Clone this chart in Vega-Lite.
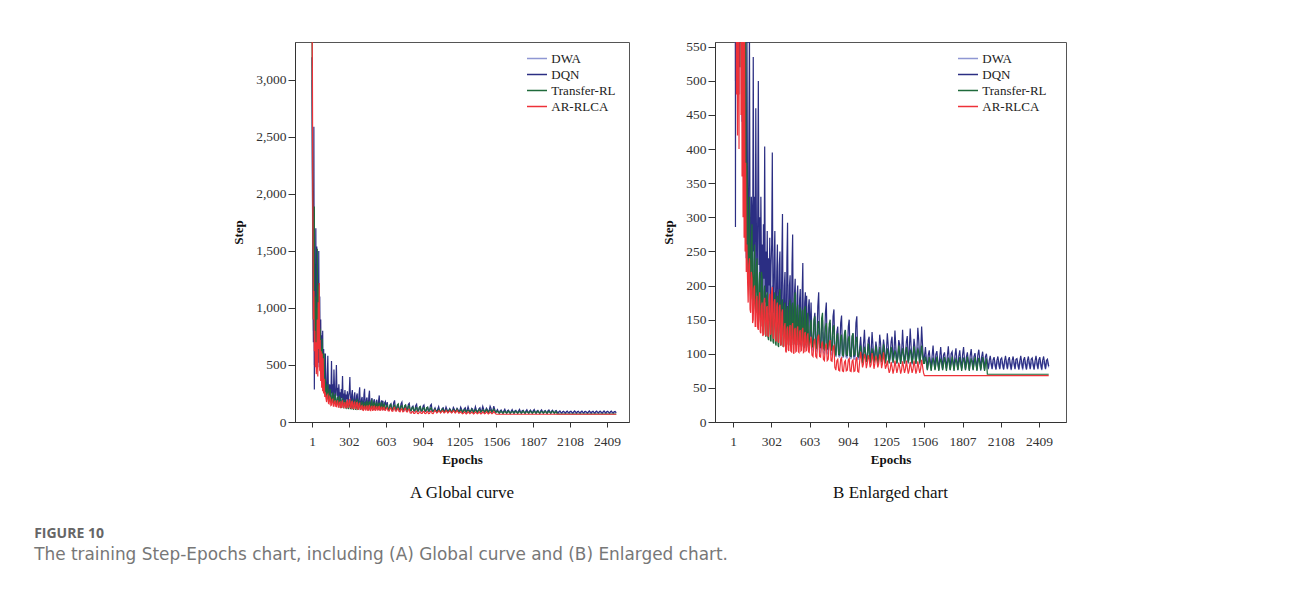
{
"$schema": "https://vega.github.io/schema/vega-lite/v6.json",
"background": "white",
"padding": {"left": 295, "top": 42, "right": 998, "bottom": 549},
"autosize": {"type": "none"},
"datasets": {"d": [
{"e":1,"DWA":3000,"DQN":3200,"Transfer-RL":3400,"AR-RLCA":3600},
{"e":4,"DWA":2000,"DQN":2200,"Transfer-RL":2600,"AR-RLCA":3100},
{"e":8,"DWA":1200,"DQN":1400,"Transfer-RL":1500,"AR-RLCA":1800},
{"e":12,"DWA":800,"DQN":700,"Transfer-RL":900,"AR-RLCA":900},
{"e":16,"DWA":1600,"DQN":2590,"Transfer-RL":1300,"AR-RLCA":1150},
{"e":20,"DWA":500,"DQN":286,"Transfer-RL":1890,"AR-RLCA":620},
{"e":24,"DWA":1100,"DQN":1300,"Transfer-RL":700,"AR-RLCA":800},
{"e":28,"DWA":700,"DQN":900,"Transfer-RL":1100,"AR-RLCA":480},
{"e":32,"DWA":1300,"DQN":1700,"Transfer-RL":560,"AR-RLCA":700},
{"e":36,"DWA":600,"DQN":700,"Transfer-RL":1000,"AR-RLCA":420},
{"e":40,"DWA":1200,"DQN":1540,"Transfer-RL":620,"AR-RLCA":560},
{"e":44,"DWA":550,"DQN":600,"Transfer-RL":1520,"AR-RLCA":900},
{"e":48,"DWA":1000,"DQN":1200,"Transfer-RL":560,"AR-RLCA":400},
{"e":52,"DWA":480,"DQN":520,"Transfer-RL":1200,"AR-RLCA":1050},
{"e":56,"DWA":1100,"DQN":1500,"Transfer-RL":700,"AR-RLCA":640},
{"e":60,"DWA":560,"DQN":650,"Transfer-RL":900,"AR-RLCA":1220},
{"e":64,"DWA":900,"DQN":1100,"Transfer-RL":520,"AR-RLCA":450},
{"e":68,"DWA":440,"DQN":480,"Transfer-RL":820,"AR-RLCA":720},
{"e":72,"DWA":780,"DQN":900,"Transfer-RL":450,"AR-RLCA":360},
{"e":76,"DWA":400,"DQN":420,"Transfer-RL":650,"AR-RLCA":620},
{"e":80,"DWA":650,"DQN":760,"Transfer-RL":420,"AR-RLCA":300},
{"e":84,"DWA":360,"DQN":380,"Transfer-RL":730,"AR-RLCA":600},
{"e":88,"DWA":620,"DQN":800,"Transfer-RL":380,"AR-RLCA":270},
{"e":92,"DWA":340,"DQN":360,"Transfer-RL":600,"AR-RLCA":560},
{"e":96,"DWA":520,"DQN":640,"Transfer-RL":320,"AR-RLCA":250},
{"e":100,"DWA":310,"DQN":330,"Transfer-RL":600,"AR-RLCA":380},
{"e":105,"DWA":260,"DQN":240,"Transfer-RL":250,"AR-RLCA":220},
{"e":110,"DWA":300,"DQN":600,"Transfer-RL":380,"AR-RLCA":260},
{"e":115,"DWA":240,"DQN":300,"Transfer-RL":300,"AR-RLCA":210},
{"e":120,"DWA":200,"DQN":210,"Transfer-RL":210,"AR-RLCA":175},
{"e":125,"DWA":260,"DQN":380,"Transfer-RL":240,"AR-RLCA":230},
{"e":130,"DWA":330,"DQN":580,"Transfer-RL":330,"AR-RLCA":240},
{"e":135,"DWA":220,"DQN":260,"Transfer-RL":200,"AR-RLCA":165},
{"e":140,"DWA":190,"DQN":200,"Transfer-RL":180,"AR-RLCA":160},
{"e":145,"DWA":240,"DQN":330,"Transfer-RL":260,"AR-RLCA":220},
{"e":150,"DWA":280,"DQN":300,"Transfer-RL":290,"AR-RLCA":210},
{"e":155,"DWA":200,"DQN":220,"Transfer-RL":190,"AR-RLCA":145},
{"e":160,"DWA":170,"DQN":535,"Transfer-RL":170,"AR-RLCA":150},
{"e":165,"DWA":230,"DQN":250,"Transfer-RL":230,"AR-RLCA":195},
{"e":170,"DWA":300,"DQN":330,"Transfer-RL":260,"AR-RLCA":200},
{"e":175,"DWA":190,"DQN":200,"Transfer-RL":175,"AR-RLCA":140},
{"e":180,"DWA":160,"DQN":460,"Transfer-RL":160,"AR-RLCA":140},
{"e":185,"DWA":220,"DQN":280,"Transfer-RL":230,"AR-RLCA":180},
{"e":190,"DWA":260,"DQN":190,"Transfer-RL":240,"AR-RLCA":185},
{"e":195,"DWA":170,"DQN":300,"Transfer-RL":160,"AR-RLCA":138},
{"e":200,"DWA":180,"DQN":500,"Transfer-RL":150,"AR-RLCA":135},
{"e":205,"DWA":210,"DQN":230,"Transfer-RL":200,"AR-RLCA":175},
{"e":210,"DWA":250,"DQN":300,"Transfer-RL":220,"AR-RLCA":190},
{"e":215,"DWA":170,"DQN":180,"Transfer-RL":150,"AR-RLCA":132},
{"e":220,"DWA":150,"DQN":330,"Transfer-RL":140,"AR-RLCA":130},
{"e":225,"DWA":200,"DQN":220,"Transfer-RL":220,"AR-RLCA":170},
{"e":230,"DWA":230,"DQN":260,"Transfer-RL":210,"AR-RLCA":175},
{"e":235,"DWA":165,"DQN":170,"Transfer-RL":135,"AR-RLCA":126},
{"e":240,"DWA":160,"DQN":290,"Transfer-RL":130,"AR-RLCA":128},
{"e":245,"DWA":200,"DQN":210,"Transfer-RL":190,"AR-RLCA":176},
{"e":250,"DWA":240,"DQN":404,"Transfer-RL":200,"AR-RLCA":182},
{"e":255,"DWA":160,"DQN":175,"Transfer-RL":128,"AR-RLCA":130},
{"e":260,"DWA":150,"DQN":250,"Transfer-RL":125,"AR-RLCA":126},
{"e":265,"DWA":200,"DQN":190,"Transfer-RL":185,"AR-RLCA":168},
{"e":270,"DWA":220,"DQN":280,"Transfer-RL":190,"AR-RLCA":170},
{"e":275,"DWA":150,"DQN":160,"Transfer-RL":125,"AR-RLCA":127},
{"e":280,"DWA":145,"DQN":240,"Transfer-RL":120,"AR-RLCA":125},
{"e":285,"DWA":190,"DQN":200,"Transfer-RL":175,"AR-RLCA":180},
{"e":290,"DWA":210,"DQN":270,"Transfer-RL":180,"AR-RLCA":188},
{"e":295,"DWA":150,"DQN":160,"Transfer-RL":120,"AR-RLCA":128},
{"e":300,"DWA":140,"DQN":230,"Transfer-RL":118,"AR-RLCA":130},
{"e":305,"DWA":185,"DQN":260,"Transfer-RL":170,"AR-RLCA":190},
{"e":310,"DWA":200,"DQN":395,"Transfer-RL":175,"AR-RLCA":198},
{"e":315,"DWA":140,"DQN":170,"Transfer-RL":118,"AR-RLCA":125},
{"e":320,"DWA":135,"DQN":160,"Transfer-RL":115,"AR-RLCA":122},
{"e":325,"DWA":180,"DQN":240,"Transfer-RL":180,"AR-RLCA":176},
{"e":330,"DWA":190,"DQN":280,"Transfer-RL":190,"AR-RLCA":180},
{"e":335,"DWA":135,"DQN":155,"Transfer-RL":115,"AR-RLCA":120},
{"e":340,"DWA":130,"DQN":145,"Transfer-RL":112,"AR-RLCA":118},
{"e":345,"DWA":170,"DQN":220,"Transfer-RL":175,"AR-RLCA":170},
{"e":350,"DWA":180,"DQN":260,"Transfer-RL":185,"AR-RLCA":175},
{"e":355,"DWA":135,"DQN":150,"Transfer-RL":112,"AR-RLCA":118},
{"e":360,"DWA":130,"DQN":140,"Transfer-RL":110,"AR-RLCA":116},
{"e":365,"DWA":165,"DQN":230,"Transfer-RL":185,"AR-RLCA":168},
{"e":370,"DWA":175,"DQN":250,"Transfer-RL":195,"AR-RLCA":172},
{"e":375,"DWA":130,"DQN":140,"Transfer-RL":112,"AR-RLCA":114},
{"e":380,"DWA":125,"DQN":135,"Transfer-RL":115,"AR-RLCA":112},
{"e":385,"DWA":160,"DQN":240,"Transfer-RL":172,"AR-RLCA":160},
{"e":390,"DWA":165,"DQN":305,"Transfer-RL":180,"AR-RLCA":165},
{"e":395,"DWA":128,"DQN":135,"Transfer-RL":110,"AR-RLCA":112},
{"e":400,"DWA":125,"DQN":130,"Transfer-RL":112,"AR-RLCA":110},
{"e":405,"DWA":155,"DQN":200,"Transfer-RL":168,"AR-RLCA":140},
{"e":410,"DWA":160,"DQN":220,"Transfer-RL":175,"AR-RLCA":145},
{"e":415,"DWA":122,"DQN":130,"Transfer-RL":112,"AR-RLCA":104},
{"e":420,"DWA":120,"DQN":128,"Transfer-RL":110,"AR-RLCA":102},
{"e":425,"DWA":150,"DQN":240,"Transfer-RL":165,"AR-RLCA":136},
{"e":430,"DWA":158,"DQN":292,"Transfer-RL":170,"AR-RLCA":140},
{"e":435,"DWA":120,"DQN":130,"Transfer-RL":114,"AR-RLCA":106},
{"e":440,"DWA":118,"DQN":125,"Transfer-RL":112,"AR-RLCA":104},
{"e":445,"DWA":148,"DQN":200,"Transfer-RL":172,"AR-RLCA":138},
{"e":450,"DWA":150,"DQN":215,"Transfer-RL":180,"AR-RLCA":142},
{"e":455,"DWA":118,"DQN":126,"Transfer-RL":112,"AR-RLCA":104},
{"e":460,"DWA":118,"DQN":122,"Transfer-RL":110,"AR-RLCA":103},
{"e":465,"DWA":146,"DQN":230,"Transfer-RL":170,"AR-RLCA":140},
{"e":470,"DWA":150,"DQN":275,"Transfer-RL":175,"AR-RLCA":145},
{"e":475,"DWA":116,"DQN":124,"Transfer-RL":113,"AR-RLCA":102},
{"e":480,"DWA":115,"DQN":120,"Transfer-RL":115,"AR-RLCA":100},
{"e":485,"DWA":144,"DQN":190,"Transfer-RL":182,"AR-RLCA":135},
{"e":490,"DWA":148,"DQN":210,"Transfer-RL":190,"AR-RLCA":138},
{"e":495,"DWA":114,"DQN":122,"Transfer-RL":114,"AR-RLCA":103},
{"e":500,"DWA":112,"DQN":124,"Transfer-RL":112,"AR-RLCA":104},
{"e":505,"DWA":142,"DQN":185,"Transfer-RL":165,"AR-RLCA":136},
{"e":510,"DWA":145,"DQN":200,"Transfer-RL":172,"AR-RLCA":140},
{"e":515,"DWA":113,"DQN":121,"Transfer-RL":113,"AR-RLCA":103},
{"e":520,"DWA":112,"DQN":120,"Transfer-RL":115,"AR-RLCA":102},
{"e":525,"DWA":140,"DQN":180,"Transfer-RL":160,"AR-RLCA":132},
{"e":530,"DWA":142,"DQN":195,"Transfer-RL":168,"AR-RLCA":135},
{"e":535,"DWA":112,"DQN":120,"Transfer-RL":114,"AR-RLCA":104},
{"e":540,"DWA":110,"DQN":122,"Transfer-RL":112,"AR-RLCA":105},
{"e":545,"DWA":138,"DQN":190,"Transfer-RL":162,"AR-RLCA":134},
{"e":550,"DWA":140,"DQN":233,"Transfer-RL":165,"AR-RLCA":138},
{"e":555,"DWA":111,"DQN":119,"Transfer-RL":111,"AR-RLCA":102},
{"e":560,"DWA":110,"DQN":118,"Transfer-RL":110,"AR-RLCA":103},
{"e":565,"DWA":136,"DQN":175,"Transfer-RL":165,"AR-RLCA":130},
{"e":570,"DWA":138,"DQN":190,"Transfer-RL":170,"AR-RLCA":132},
{"e":575,"DWA":110,"DQN":120,"Transfer-RL":113,"AR-RLCA":104},
{"e":580,"DWA":108,"DQN":185,"Transfer-RL":112,"AR-RLCA":105},
{"e":585,"DWA":132,"DQN":118,"Transfer-RL":150,"AR-RLCA":126},
{"e":590,"DWA":136,"DQN":120,"Transfer-RL":160,"AR-RLCA":130},
{"e":595,"DWA":110,"DQN":170,"Transfer-RL":113,"AR-RLCA":103},
{"e":600,"DWA":108,"DQN":180,"Transfer-RL":112,"AR-RLCA":102},
{"e":608,"DWA":130,"DQN":125,"Transfer-RL":140,"AR-RLCA":118},
{"e":615,"DWA":140,"DQN":175,"Transfer-RL":150,"AR-RLCA":125},
{"e":622,"DWA":108,"DQN":115,"Transfer-RL":112,"AR-RLCA":98},
{"e":630,"DWA":105,"DQN":110,"Transfer-RL":110,"AR-RLCA":96},
{"e":638,"DWA":130,"DQN":150,"Transfer-RL":148,"AR-RLCA":118},
{"e":645,"DWA":138,"DQN":160,"Transfer-RL":155,"AR-RLCA":122},
{"e":652,"DWA":106,"DQN":114,"Transfer-RL":110,"AR-RLCA":96},
{"e":660,"DWA":104,"DQN":112,"Transfer-RL":108,"AR-RLCA":94},
{"e":668,"DWA":128,"DQN":170,"Transfer-RL":142,"AR-RLCA":124},
{"e":675,"DWA":135,"DQN":190,"Transfer-RL":148,"AR-RLCA":128},
{"e":682,"DWA":104,"DQN":112,"Transfer-RL":110,"AR-RLCA":96},
{"e":690,"DWA":102,"DQN":108,"Transfer-RL":112,"AR-RLCA":95},
{"e":698,"DWA":126,"DQN":140,"Transfer-RL":152,"AR-RLCA":114},
{"e":705,"DWA":132,"DQN":150,"Transfer-RL":160,"AR-RLCA":118},
{"e":712,"DWA":102,"DQN":112,"Transfer-RL":108,"AR-RLCA":92},
{"e":720,"DWA":100,"DQN":110,"Transfer-RL":106,"AR-RLCA":90},
{"e":728,"DWA":124,"DQN":160,"Transfer-RL":140,"AR-RLCA":112},
{"e":735,"DWA":130,"DQN":175,"Transfer-RL":145,"AR-RLCA":115},
{"e":742,"DWA":100,"DQN":108,"Transfer-RL":108,"AR-RLCA":90},
{"e":750,"DWA":100,"DQN":106,"Transfer-RL":110,"AR-RLCA":92},
{"e":758,"DWA":122,"DQN":138,"Transfer-RL":144,"AR-RLCA":116},
{"e":765,"DWA":128,"DQN":145,"Transfer-RL":150,"AR-RLCA":120},
{"e":772,"DWA":99,"DQN":106,"Transfer-RL":106,"AR-RLCA":90},
{"e":780,"DWA":98,"DQN":108,"Transfer-RL":105,"AR-RLCA":89},
{"e":788,"DWA":120,"DQN":155,"Transfer-RL":138,"AR-RLCA":110},
{"e":795,"DWA":126,"DQN":165,"Transfer-RL":142,"AR-RLCA":112},
{"e":802,"DWA":97,"DQN":102,"Transfer-RL":100,"AR-RLCA":80},
{"e":810,"DWA":96,"DQN":100,"Transfer-RL":98,"AR-RLCA":76},
{"e":818,"DWA":118,"DQN":132,"Transfer-RL":126,"AR-RLCA":90},
{"e":825,"DWA":125,"DQN":140,"Transfer-RL":130,"AR-RLCA":92},
{"e":832,"DWA":96,"DQN":99,"Transfer-RL":99,"AR-RLCA":76},
{"e":840,"DWA":95,"DQN":98,"Transfer-RL":100,"AR-RLCA":75},
{"e":848,"DWA":118,"DQN":145,"Transfer-RL":124,"AR-RLCA":92},
{"e":855,"DWA":122,"DQN":156,"Transfer-RL":128,"AR-RLCA":94},
{"e":862,"DWA":95,"DQN":99,"Transfer-RL":98,"AR-RLCA":75},
{"e":870,"DWA":95,"DQN":100,"Transfer-RL":97,"AR-RLCA":74},
{"e":878,"DWA":116,"DQN":128,"Transfer-RL":130,"AR-RLCA":88},
{"e":885,"DWA":120,"DQN":135,"Transfer-RL":135,"AR-RLCA":90},
{"e":892,"DWA":94,"DQN":97,"Transfer-RL":99,"AR-RLCA":75},
{"e":900,"DWA":94,"DQN":98,"Transfer-RL":98,"AR-RLCA":76},
{"e":908,"DWA":114,"DQN":140,"Transfer-RL":122,"AR-RLCA":91},
{"e":915,"DWA":118,"DQN":150,"Transfer-RL":126,"AR-RLCA":93},
{"e":922,"DWA":93,"DQN":97,"Transfer-RL":97,"AR-RLCA":75},
{"e":930,"DWA":93,"DQN":96,"Transfer-RL":96,"AR-RLCA":74},
{"e":938,"DWA":114,"DQN":125,"Transfer-RL":126,"AR-RLCA":89},
{"e":945,"DWA":118,"DQN":130,"Transfer-RL":130,"AR-RLCA":91},
{"e":952,"DWA":92,"DQN":96,"Transfer-RL":98,"AR-RLCA":74},
{"e":960,"DWA":92,"DQN":97,"Transfer-RL":99,"AR-RLCA":75},
{"e":968,"DWA":112,"DQN":145,"Transfer-RL":120,"AR-RLCA":92},
{"e":975,"DWA":116,"DQN":155,"Transfer-RL":125,"AR-RLCA":95},
{"e":982,"DWA":92,"DQN":96,"Transfer-RL":97,"AR-RLCA":74},
{"e":990,"DWA":92,"DQN":95,"Transfer-RL":96,"AR-RLCA":73},
{"e":1005,"DWA":115,"DQN":125,"Transfer-RL":112,"AR-RLCA":103},
{"e":1020,"DWA":88,"DQN":88,"Transfer-RL":86,"AR-RLCA":80},
{"e":1035,"DWA":112,"DQN":135,"Transfer-RL":110,"AR-RLCA":100},
{"e":1050,"DWA":88,"DQN":90,"Transfer-RL":88,"AR-RLCA":79},
{"e":1065,"DWA":110,"DQN":120,"Transfer-RL":115,"AR-RLCA":98},
{"e":1080,"DWA":87,"DQN":88,"Transfer-RL":86,"AR-RLCA":80},
{"e":1095,"DWA":112,"DQN":132,"Transfer-RL":108,"AR-RLCA":101},
{"e":1110,"DWA":86,"DQN":90,"Transfer-RL":87,"AR-RLCA":78},
{"e":1125,"DWA":108,"DQN":118,"Transfer-RL":112,"AR-RLCA":97},
{"e":1140,"DWA":86,"DQN":87,"Transfer-RL":85,"AR-RLCA":80},
{"e":1155,"DWA":110,"DQN":128,"Transfer-RL":110,"AR-RLCA":99},
{"e":1170,"DWA":86,"DQN":89,"Transfer-RL":88,"AR-RLCA":79},
{"e":1185,"DWA":108,"DQN":121,"Transfer-RL":114,"AR-RLCA":102},
{"e":1200,"DWA":86,"DQN":88,"Transfer-RL":86,"AR-RLCA":78},
{"e":1215,"DWA":106,"DQN":130,"Transfer-RL":108,"AR-RLCA":90},
{"e":1230,"DWA":86,"DQN":88,"Transfer-RL":86,"AR-RLCA":72},
{"e":1245,"DWA":108,"DQN":118,"Transfer-RL":110,"AR-RLCA":88},
{"e":1260,"DWA":86,"DQN":89,"Transfer-RL":87,"AR-RLCA":71},
{"e":1275,"DWA":110,"DQN":134,"Transfer-RL":105,"AR-RLCA":90},
{"e":1290,"DWA":85,"DQN":87,"Transfer-RL":86,"AR-RLCA":72},
{"e":1305,"DWA":106,"DQN":120,"Transfer-RL":112,"AR-RLCA":87},
{"e":1320,"DWA":85,"DQN":88,"Transfer-RL":85,"AR-RLCA":71},
{"e":1335,"DWA":108,"DQN":135,"Transfer-RL":108,"AR-RLCA":89},
{"e":1350,"DWA":85,"DQN":87,"Transfer-RL":86,"AR-RLCA":72},
{"e":1365,"DWA":105,"DQN":118,"Transfer-RL":110,"AR-RLCA":90},
{"e":1380,"DWA":85,"DQN":88,"Transfer-RL":87,"AR-RLCA":71},
{"e":1395,"DWA":108,"DQN":137,"Transfer-RL":106,"AR-RLCA":88},
{"e":1410,"DWA":84,"DQN":86,"Transfer-RL":86,"AR-RLCA":72},
{"e":1425,"DWA":106,"DQN":122,"Transfer-RL":111,"AR-RLCA":90},
{"e":1440,"DWA":85,"DQN":87,"Transfer-RL":85,"AR-RLCA":71},
{"e":1455,"DWA":110,"DQN":138,"Transfer-RL":108,"AR-RLCA":89},
{"e":1470,"DWA":84,"DQN":88,"Transfer-RL":86,"AR-RLCA":72},
{"e":1485,"DWA":107,"DQN":140,"Transfer-RL":112,"AR-RLCA":91},
{"e":1500,"DWA":85,"DQN":87,"Transfer-RL":86,"AR-RLCA":72},
{"e":1515,"DWA":98,"DQN":110,"Transfer-RL":96,"AR-RLCA":68},
{"e":1530,"DWA":76,"DQN":78,"Transfer-RL":76,"AR-RLCA":68},
{"e":1545,"DWA":96,"DQN":105,"Transfer-RL":95,"AR-RLCA":68},
{"e":1560,"DWA":76,"DQN":79,"Transfer-RL":75,"AR-RLCA":68},
{"e":1575,"DWA":95,"DQN":112,"Transfer-RL":94,"AR-RLCA":68},
{"e":1590,"DWA":77,"DQN":78,"Transfer-RL":76,"AR-RLCA":68},
{"e":1605,"DWA":94,"DQN":104,"Transfer-RL":96,"AR-RLCA":68},
{"e":1620,"DWA":76,"DQN":77,"Transfer-RL":75,"AR-RLCA":68},
{"e":1635,"DWA":96,"DQN":110,"Transfer-RL":93,"AR-RLCA":68},
{"e":1650,"DWA":76,"DQN":78,"Transfer-RL":76,"AR-RLCA":68},
{"e":1665,"DWA":94,"DQN":102,"Transfer-RL":95,"AR-RLCA":68},
{"e":1680,"DWA":77,"DQN":79,"Transfer-RL":75,"AR-RLCA":68},
{"e":1695,"DWA":95,"DQN":111,"Transfer-RL":94,"AR-RLCA":68},
{"e":1710,"DWA":76,"DQN":77,"Transfer-RL":76,"AR-RLCA":68},
{"e":1725,"DWA":93,"DQN":103,"Transfer-RL":96,"AR-RLCA":68},
{"e":1740,"DWA":76,"DQN":78,"Transfer-RL":75,"AR-RLCA":68},
{"e":1755,"DWA":95,"DQN":108,"Transfer-RL":93,"AR-RLCA":68},
{"e":1770,"DWA":76,"DQN":77,"Transfer-RL":76,"AR-RLCA":68},
{"e":1785,"DWA":94,"DQN":105,"Transfer-RL":95,"AR-RLCA":68},
{"e":1800,"DWA":77,"DQN":79,"Transfer-RL":75,"AR-RLCA":68},
{"e":1815,"DWA":95,"DQN":110,"Transfer-RL":94,"AR-RLCA":68},
{"e":1830,"DWA":76,"DQN":78,"Transfer-RL":76,"AR-RLCA":68},
{"e":1845,"DWA":93,"DQN":102,"Transfer-RL":96,"AR-RLCA":68},
{"e":1860,"DWA":76,"DQN":77,"Transfer-RL":75,"AR-RLCA":68},
{"e":1875,"DWA":94,"DQN":107,"Transfer-RL":93,"AR-RLCA":68},
{"e":1890,"DWA":76,"DQN":78,"Transfer-RL":76,"AR-RLCA":68},
{"e":1905,"DWA":93,"DQN":101,"Transfer-RL":95,"AR-RLCA":68},
{"e":1920,"DWA":76,"DQN":77,"Transfer-RL":75,"AR-RLCA":68},
{"e":1935,"DWA":94,"DQN":106,"Transfer-RL":94,"AR-RLCA":68},
{"e":1950,"DWA":75,"DQN":78,"Transfer-RL":76,"AR-RLCA":68},
{"e":1965,"DWA":93,"DQN":103,"Transfer-RL":95,"AR-RLCA":68},
{"e":1980,"DWA":76,"DQN":77,"Transfer-RL":75,"AR-RLCA":68},
{"e":1995,"DWA":92,"DQN":100,"Transfer-RL":93,"AR-RLCA":68},
{"e":2010,"DWA":77,"DQN":78,"Transfer-RL":70,"AR-RLCA":68},
{"e":2025,"DWA":90,"DQN":97,"Transfer-RL":70,"AR-RLCA":68},
{"e":2040,"DWA":77,"DQN":78,"Transfer-RL":70,"AR-RLCA":68},
{"e":2055,"DWA":89,"DQN":95,"Transfer-RL":70,"AR-RLCA":68},
{"e":2070,"DWA":77,"DQN":77,"Transfer-RL":70,"AR-RLCA":68},
{"e":2085,"DWA":90,"DQN":96,"Transfer-RL":70,"AR-RLCA":68},
{"e":2100,"DWA":77,"DQN":78,"Transfer-RL":70,"AR-RLCA":68},
{"e":2115,"DWA":88,"DQN":94,"Transfer-RL":70,"AR-RLCA":68},
{"e":2130,"DWA":77,"DQN":77,"Transfer-RL":70,"AR-RLCA":68},
{"e":2145,"DWA":90,"DQN":97,"Transfer-RL":70,"AR-RLCA":68},
{"e":2160,"DWA":77,"DQN":78,"Transfer-RL":70,"AR-RLCA":68},
{"e":2175,"DWA":89,"DQN":95,"Transfer-RL":70,"AR-RLCA":68},
{"e":2190,"DWA":76,"DQN":77,"Transfer-RL":70,"AR-RLCA":68},
{"e":2205,"DWA":90,"DQN":96,"Transfer-RL":70,"AR-RLCA":68},
{"e":2220,"DWA":77,"DQN":78,"Transfer-RL":70,"AR-RLCA":68},
{"e":2235,"DWA":88,"DQN":93,"Transfer-RL":70,"AR-RLCA":68},
{"e":2250,"DWA":77,"DQN":77,"Transfer-RL":70,"AR-RLCA":68},
{"e":2265,"DWA":90,"DQN":97,"Transfer-RL":70,"AR-RLCA":68},
{"e":2280,"DWA":76,"DQN":78,"Transfer-RL":70,"AR-RLCA":68},
{"e":2295,"DWA":89,"DQN":95,"Transfer-RL":70,"AR-RLCA":68},
{"e":2310,"DWA":77,"DQN":77,"Transfer-RL":70,"AR-RLCA":68},
{"e":2325,"DWA":90,"DQN":96,"Transfer-RL":70,"AR-RLCA":68},
{"e":2340,"DWA":77,"DQN":78,"Transfer-RL":70,"AR-RLCA":68},
{"e":2355,"DWA":88,"DQN":94,"Transfer-RL":70,"AR-RLCA":68},
{"e":2370,"DWA":77,"DQN":77,"Transfer-RL":70,"AR-RLCA":68},
{"e":2385,"DWA":89,"DQN":97,"Transfer-RL":70,"AR-RLCA":68},
{"e":2400,"DWA":77,"DQN":78,"Transfer-RL":70,"AR-RLCA":68},
{"e":2415,"DWA":90,"DQN":95,"Transfer-RL":70,"AR-RLCA":68},
{"e":2430,"DWA":76,"DQN":77,"Transfer-RL":70,"AR-RLCA":68},
{"e":2445,"DWA":89,"DQN":96,"Transfer-RL":70,"AR-RLCA":68},
{"e":2460,"DWA":77,"DQN":78,"Transfer-RL":70,"AR-RLCA":68},
{"e":2475,"DWA":88,"DQN":92,"Transfer-RL":70,"AR-RLCA":68},
{"e":2485,"DWA":80,"DQN":82,"Transfer-RL":70,"AR-RLCA":68},
{"e":997,"DWA":100,"DQN":108,"Transfer-RL":104,"AR-RLCA":88},
{"e":1012,"DWA":96,"DQN":102,"Transfer-RL":98,"AR-RLCA":92},
{"e":1027,"DWA":100,"DQN":112,"Transfer-RL":95,"AR-RLCA":85},
{"e":1042,"DWA":94,"DQN":104,"Transfer-RL":102,"AR-RLCA":94},
{"e":1057,"DWA":99,"DQN":96,"Transfer-RL":92,"AR-RLCA":86},
{"e":1072,"DWA":95,"DQN":125,"Transfer-RL":104,"AR-RLCA":92},
{"e":1087,"DWA":98,"DQN":100,"Transfer-RL":94,"AR-RLCA":84},
{"e":1102,"DWA":93,"DQN":112,"Transfer-RL":100,"AR-RLCA":93},
{"e":1117,"DWA":100,"DQN":98,"Transfer-RL":96,"AR-RLCA":86},
{"e":1132,"DWA":95,"DQN":108,"Transfer-RL":103,"AR-RLCA":91},
{"e":1147,"DWA":98,"DQN":96,"Transfer-RL":93,"AR-RLCA":85},
{"e":1162,"DWA":94,"DQN":115,"Transfer-RL":101,"AR-RLCA":94},
{"e":1177,"DWA":99,"DQN":99,"Transfer-RL":95,"AR-RLCA":86},
{"e":1192,"DWA":95,"DQN":110,"Transfer-RL":100,"AR-RLCA":90},
{"e":1207,"DWA":97,"DQN":100,"Transfer-RL":96,"AR-RLCA":82},
{"e":1222,"DWA":94,"DQN":112,"Transfer-RL":99,"AR-RLCA":80},
{"e":1237,"DWA":98,"DQN":98,"Transfer-RL":94,"AR-RLCA":76},
{"e":1252,"DWA":93,"DQN":125,"Transfer-RL":102,"AR-RLCA":81},
{"e":1267,"DWA":97,"DQN":100,"Transfer-RL":95,"AR-RLCA":77},
{"e":1282,"DWA":94,"DQN":110,"Transfer-RL":100,"AR-RLCA":82},
{"e":1297,"DWA":98,"DQN":96,"Transfer-RL":93,"AR-RLCA":78},
{"e":1312,"DWA":93,"DQN":114,"Transfer-RL":101,"AR-RLCA":81},
{"e":1327,"DWA":97,"DQN":99,"Transfer-RL":96,"AR-RLCA":76},
{"e":1342,"DWA":94,"DQN":108,"Transfer-RL":100,"AR-RLCA":82},
{"e":1357,"DWA":98,"DQN":97,"Transfer-RL":94,"AR-RLCA":77},
{"e":1372,"DWA":93,"DQN":126,"Transfer-RL":102,"AR-RLCA":80},
{"e":1387,"DWA":97,"DQN":100,"Transfer-RL":95,"AR-RLCA":76},
{"e":1402,"DWA":94,"DQN":112,"Transfer-RL":101,"AR-RLCA":81},
{"e":1417,"DWA":98,"DQN":98,"Transfer-RL":94,"AR-RLCA":77},
{"e":1432,"DWA":93,"DQN":110,"Transfer-RL":100,"AR-RLCA":82},
{"e":1447,"DWA":97,"DQN":100,"Transfer-RL":96,"AR-RLCA":76},
{"e":1462,"DWA":94,"DQN":120,"Transfer-RL":102,"AR-RLCA":80},
{"e":1477,"DWA":97,"DQN":99,"Transfer-RL":95,"AR-RLCA":78},
{"e":1492,"DWA":95,"DQN":113,"Transfer-RL":100,"AR-RLCA":82},
{"e":1507,"DWA":90,"DQN":96,"Transfer-RL":86,"AR-RLCA":68},
{"e":1522,"DWA":86,"DQN":92,"Transfer-RL":88,"AR-RLCA":68},
{"e":1537,"DWA":88,"DQN":98,"Transfer-RL":84,"AR-RLCA":68},
{"e":1552,"DWA":85,"DQN":90,"Transfer-RL":87,"AR-RLCA":68},
{"e":1567,"DWA":89,"DQN":96,"Transfer-RL":85,"AR-RLCA":68},
{"e":1582,"DWA":84,"DQN":92,"Transfer-RL":88,"AR-RLCA":68},
{"e":1597,"DWA":88,"DQN":99,"Transfer-RL":84,"AR-RLCA":68},
{"e":1612,"DWA":85,"DQN":89,"Transfer-RL":87,"AR-RLCA":68},
{"e":1627,"DWA":88,"DQN":95,"Transfer-RL":85,"AR-RLCA":68},
{"e":1642,"DWA":84,"DQN":93,"Transfer-RL":88,"AR-RLCA":68},
{"e":1657,"DWA":89,"DQN":98,"Transfer-RL":84,"AR-RLCA":68},
{"e":1672,"DWA":85,"DQN":90,"Transfer-RL":87,"AR-RLCA":68},
{"e":1687,"DWA":88,"DQN":96,"Transfer-RL":85,"AR-RLCA":68},
{"e":1702,"DWA":84,"DQN":92,"Transfer-RL":88,"AR-RLCA":68},
{"e":1717,"DWA":88,"DQN":100,"Transfer-RL":84,"AR-RLCA":68},
{"e":1732,"DWA":85,"DQN":89,"Transfer-RL":87,"AR-RLCA":68},
{"e":1747,"DWA":89,"DQN":97,"Transfer-RL":85,"AR-RLCA":68},
{"e":1762,"DWA":84,"DQN":91,"Transfer-RL":88,"AR-RLCA":68},
{"e":1777,"DWA":88,"DQN":96,"Transfer-RL":84,"AR-RLCA":68},
{"e":1792,"DWA":85,"DQN":90,"Transfer-RL":87,"AR-RLCA":68},
{"e":1807,"DWA":88,"DQN":98,"Transfer-RL":85,"AR-RLCA":68},
{"e":1822,"DWA":84,"DQN":92,"Transfer-RL":88,"AR-RLCA":68},
{"e":1837,"DWA":89,"DQN":95,"Transfer-RL":84,"AR-RLCA":68},
{"e":1852,"DWA":85,"DQN":90,"Transfer-RL":87,"AR-RLCA":68},
{"e":1867,"DWA":88,"DQN":97,"Transfer-RL":85,"AR-RLCA":68},
{"e":1882,"DWA":84,"DQN":91,"Transfer-RL":88,"AR-RLCA":68},
{"e":1897,"DWA":88,"DQN":96,"Transfer-RL":84,"AR-RLCA":68},
{"e":1912,"DWA":85,"DQN":89,"Transfer-RL":87,"AR-RLCA":68},
{"e":1927,"DWA":89,"DQN":98,"Transfer-RL":85,"AR-RLCA":68},
{"e":1942,"DWA":84,"DQN":92,"Transfer-RL":88,"AR-RLCA":68},
{"e":1957,"DWA":88,"DQN":95,"Transfer-RL":84,"AR-RLCA":68},
{"e":1972,"DWA":85,"DQN":90,"Transfer-RL":87,"AR-RLCA":68},
{"e":1987,"DWA":88,"DQN":96,"Transfer-RL":85,"AR-RLCA":68},
{"e":2002,"DWA":84,"DQN":88,"Transfer-RL":70,"AR-RLCA":68},
{"e":2017,"DWA":85,"DQN":90,"Transfer-RL":70,"AR-RLCA":68},
{"e":2032,"DWA":83,"DQN":87,"Transfer-RL":70,"AR-RLCA":68},
{"e":2047,"DWA":85,"DQN":91,"Transfer-RL":70,"AR-RLCA":68},
{"e":2062,"DWA":82,"DQN":86,"Transfer-RL":70,"AR-RLCA":68},
{"e":2077,"DWA":84,"DQN":90,"Transfer-RL":70,"AR-RLCA":68},
{"e":2092,"DWA":83,"DQN":87,"Transfer-RL":70,"AR-RLCA":68},
{"e":2107,"DWA":85,"DQN":92,"Transfer-RL":70,"AR-RLCA":68},
{"e":2122,"DWA":82,"DQN":86,"Transfer-RL":70,"AR-RLCA":68},
{"e":2137,"DWA":84,"DQN":89,"Transfer-RL":70,"AR-RLCA":68},
{"e":2152,"DWA":83,"DQN":88,"Transfer-RL":70,"AR-RLCA":68},
{"e":2167,"DWA":85,"DQN":91,"Transfer-RL":70,"AR-RLCA":68},
{"e":2182,"DWA":82,"DQN":86,"Transfer-RL":70,"AR-RLCA":68},
{"e":2197,"DWA":84,"DQN":90,"Transfer-RL":70,"AR-RLCA":68},
{"e":2212,"DWA":83,"DQN":87,"Transfer-RL":70,"AR-RLCA":68},
{"e":2227,"DWA":85,"DQN":92,"Transfer-RL":70,"AR-RLCA":68},
{"e":2242,"DWA":82,"DQN":86,"Transfer-RL":70,"AR-RLCA":68},
{"e":2257,"DWA":84,"DQN":89,"Transfer-RL":70,"AR-RLCA":68},
{"e":2272,"DWA":83,"DQN":88,"Transfer-RL":70,"AR-RLCA":68},
{"e":2287,"DWA":85,"DQN":91,"Transfer-RL":70,"AR-RLCA":68},
{"e":2302,"DWA":82,"DQN":86,"Transfer-RL":70,"AR-RLCA":68},
{"e":2317,"DWA":84,"DQN":90,"Transfer-RL":70,"AR-RLCA":68},
{"e":2332,"DWA":83,"DQN":87,"Transfer-RL":70,"AR-RLCA":68},
{"e":2347,"DWA":85,"DQN":92,"Transfer-RL":70,"AR-RLCA":68},
{"e":2362,"DWA":82,"DQN":86,"Transfer-RL":70,"AR-RLCA":68},
{"e":2377,"DWA":84,"DQN":89,"Transfer-RL":70,"AR-RLCA":68},
{"e":2392,"DWA":83,"DQN":88,"Transfer-RL":70,"AR-RLCA":68},
{"e":2407,"DWA":85,"DQN":91,"Transfer-RL":70,"AR-RLCA":68},
{"e":2422,"DWA":82,"DQN":86,"Transfer-RL":70,"AR-RLCA":68},
{"e":2437,"DWA":84,"DQN":90,"Transfer-RL":70,"AR-RLCA":68},
{"e":2452,"DWA":83,"DQN":87,"Transfer-RL":70,"AR-RLCA":68},
{"e":2467,"DWA":85,"DQN":90,"Transfer-RL":70,"AR-RLCA":68}
]},
"title": {
  "text": "FIGURE 10",
  "subtitle": "The training Step-Epochs chart, including (A) Global curve and (B) Enlarged chart.",
  "orient": "bottom",
  "anchor": "start",
  "dx": -198,
  "offset": 26,
  "font": "Open Sans",
  "fontSize": 14,
  "fontWeight": "bold",
  "color": "#666666",
  "subtitleFont": "DejaVu Sans",
  "subtitleFontSize": 16.9,
  "subtitleColor": "#777777",
  "subtitlePadding": 6
},
"hconcat": [
  {
    "width": 334,
    "height": 380,
    "data": {"name": "d"},
    "transform": [{"fold": ["DWA", "DQN", "Transfer-RL", "AR-RLCA"], "as": ["series", "step"]}],
    "title": {"text": "A  Global curve", "orient": "bottom", "anchor": "middle", "font": "Liberation Serif", "fontSize": 17, "fontWeight": "normal", "color": "#111111", "offset": 18},
    "mark": {"type": "line", "strokeWidth": 1.2, "clip": true},
    "encoding": {
      "x": {"field": "e", "type": "quantitative", "scale": {"domain": [-138, 2589], "nice": false, "zero": false},
            "axis": {"title": "Epochs", "values": [1, 302, 603, 904, 1205, 1506, 1807, 2108, 2409], "format": "d"}},
      "y": {"field": "step", "type": "quantitative", "scale": {"domain": [0, 3333], "nice": false},
            "axis": {"title": "Step", "values": [0, 500, 1000, 1500, 2000, 2500, 3000], "format": ",d", "tickSize": 7, "labelPadding": 2, "titlePadding": 10}},
      "color": {"field": "series", "type": "nominal",
                "scale": {"domain": ["DWA", "DQN", "Transfer-RL", "AR-RLCA"], "range": ["#8f97d3", "#2b2e83", "#1f6a3b", "#ee3138"]},
                "legend": {"title": null, "orient": "none", "legendX": 234.5, "legendY": 9, "symbolType": "M-1.54,0H1.54", "symbolSize": 169, "symbolStrokeWidth": 1.5, "labelFont": "Liberation Serif", "labelFontSize": 13, "labelColor": "#222222", "labelOffset": 6.8, "rowPadding": 1, "padding": 0}}
    }
  },
  {
    "width": 351,
    "height": 380,
    "data": {"name": "d"},
    "transform": [{"fold": ["DWA", "DQN", "Transfer-RL", "AR-RLCA"], "as": ["series", "step"]}],
    "title": {"text": "B  Enlarged chart", "orient": "bottom", "anchor": "middle", "font": "Liberation Serif", "fontSize": 17, "fontWeight": "normal", "color": "#111111", "offset": 18},
    "mark": {"type": "line", "strokeWidth": 1.2, "clip": true},
    "encoding": {
      "x": {"field": "e", "type": "quantitative", "scale": {"domain": [-141, 2621], "nice": false, "zero": false},
            "axis": {"title": "Epochs", "values": [1, 302, 603, 904, 1205, 1506, 1807, 2108, 2409], "format": "d"}},
      "y": {"field": "step", "type": "quantitative", "scale": {"domain": [0, 557], "nice": false},
            "axis": {"title": "Step", "values": [0, 50, 100, 150, 200, 250, 300, 350, 400, 450, 500, 550], "format": "d", "tickSize": 7, "labelPadding": 2, "titlePadding": 10}},
      "color": {"field": "series", "type": "nominal",
                "scale": {"domain": ["DWA", "DQN", "Transfer-RL", "AR-RLCA"], "range": ["#8f97d3", "#2b2e83", "#1f6a3b", "#ee3138"]},
                "legend": {"title": null, "orient": "none", "legendX": 245.5, "legendY": 9, "symbolType": "M-1.54,0H1.54", "symbolSize": 169, "symbolStrokeWidth": 1.5, "labelFont": "Liberation Serif", "labelFontSize": 13, "labelColor": "#222222", "labelOffset": 6.8, "rowPadding": 1, "padding": 0}}
    }
  }
],
"spacing": 32,
"resolve": {"legend": {"color": "independent"}},
"config": {
  "view": {"stroke": "#555555", "strokeWidth": 1},
  "axis": {"labelFont": "Liberation Serif", "labelFontSize": 13.5, "labelColor": "#333333", "titleFont": "Liberation Serif", "titleFontSize": 13, "titleFontWeight": "bold", "titleColor": "#111111", "domainColor": "#333333", "tickColor": "#333333", "grid": false, "tickSize": 5, "labelPadding": 7, "titlePadding": 6}
}
}
